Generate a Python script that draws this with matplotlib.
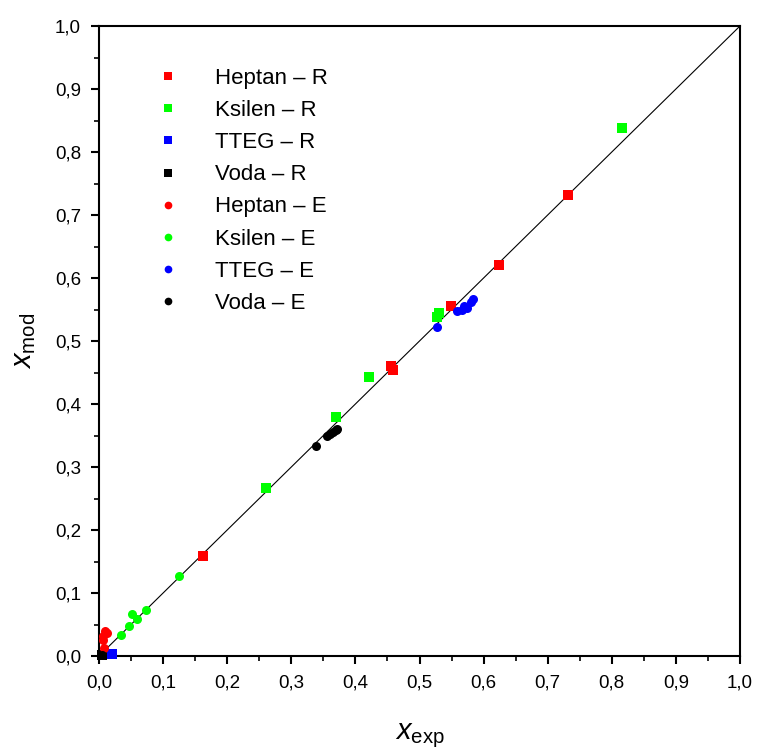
import matplotlib
matplotlib.use("Agg")
import matplotlib.pyplot as plt
from matplotlib.ticker import MultipleLocator, FuncFormatter

plt.rcParams['font.family'] = ['Liberation Sans', 'DejaVu Sans']
plt.rcParams['mathtext.fontset'] = 'custom'
plt.rcParams['mathtext.rm'] = 'Liberation Sans'
plt.rcParams['mathtext.it'] = 'Liberation Sans:italic'

# Data (x_exp, x_mod)
heptan_R_x = [0.732, 0.624, 0.549, 0.456, 0.459, 0.162]
heptan_R_y = [0.732, 0.621, 0.555, 0.460, 0.454, 0.159]
ksilen_R_x = [0.816, 0.530, 0.528, 0.421, 0.370, 0.260]
ksilen_R_y = [0.838, 0.545, 0.538, 0.443, 0.379, 0.267]
tteg_R_x = [0.020]
tteg_R_y = [0.003]
voda_R_x = [0.005]
voda_R_y = [0.001]
heptan_E_x = [0.012, 0.006, 0.006, 0.008, 0.010]
heptan_E_y = [0.037, 0.032, 0.025, 0.013, 0.040]
ksilen_E_x = [0.125, 0.074, 0.052, 0.059, 0.047, 0.034]
ksilen_E_y = [0.127, 0.073, 0.067, 0.058, 0.048, 0.034]
tteg_E_x = [0.528, 0.558, 0.566, 0.574, 0.580, 0.583, 0.570]
tteg_E_y = [0.523, 0.547, 0.549, 0.552, 0.562, 0.566, 0.556]
voda_E_x = [0.338, 0.355, 0.360, 0.365, 0.370, 0.371, 0.004]
voda_E_y = [0.334, 0.349, 0.352, 0.355, 0.358, 0.361, 0.002]

fig = plt.figure(figsize=(7.58, 7.49), dpi=100)
ax = fig.add_axes([99/758, 1 - 656/749, (740-99)/758, (656-26)/749])

ax.plot([0, 1], [0, 1], color='black', lw=0.8, zorder=1)

ms = 6.5
series = [
    (heptan_R_x, heptan_R_y, 's', '#ff0000', 'Heptan – R'),
    (ksilen_R_x, ksilen_R_y, 's', '#00ff00', 'Ksilen – R'),
    (tteg_R_x, tteg_R_y, 's', '#0000ff', 'TTEG – R'),
    (voda_R_x, voda_R_y, 's', '#000000', 'Voda – R'),
    (heptan_E_x, heptan_E_y, 'o', '#ff0000', 'Heptan – E'),
    (ksilen_E_x, ksilen_E_y, 'o', '#00ff00', 'Ksilen – E'),
    (tteg_E_x, tteg_E_y, 'o', '#0000ff', 'TTEG – E'),
    (voda_E_x, voda_E_y, 'o', '#000000', 'Voda – E'),
]
for x, y, m, c, lab in series:
    ax.plot(x, y, linestyle='none', marker=m, color=c, markersize=ms,
            markeredgewidth=0, label=lab, zorder=3, clip_on=False)

ax.set_xlim(0, 1)
ax.set_ylim(0, 1)
fmt = FuncFormatter(lambda v, p: f"{v:.1f}".replace('.', ','))
for axis in (ax.xaxis, ax.yaxis):
    axis.set_major_locator(MultipleLocator(0.1))
    axis.set_minor_locator(MultipleLocator(0.05))
    axis.set_major_formatter(fmt)
ax.tick_params(which='major', direction='out', length=6, width=1.5, labelsize=13.5, pad=7)
ax.tick_params(which='minor', direction='out', length=3.5, width=1.2)
for s in ax.spines.values():
    s.set_linewidth(1.5)

ax.set_xlabel(r'$x_{\mathrm{exp}}$', fontsize=21, labelpad=22)
ax.set_ylabel(r'$x_{\mathrm{mod}}$', fontsize=21, labelpad=12)

leg = ax.legend(loc='upper left', bbox_to_anchor=(0.066, 0.965), frameon=False,
                fontsize=16, handlelength=0.6, handletextpad=1.8,
                labelspacing=0.5, markerscale=0.85)

fig.savefig('out.png', dpi=100)
